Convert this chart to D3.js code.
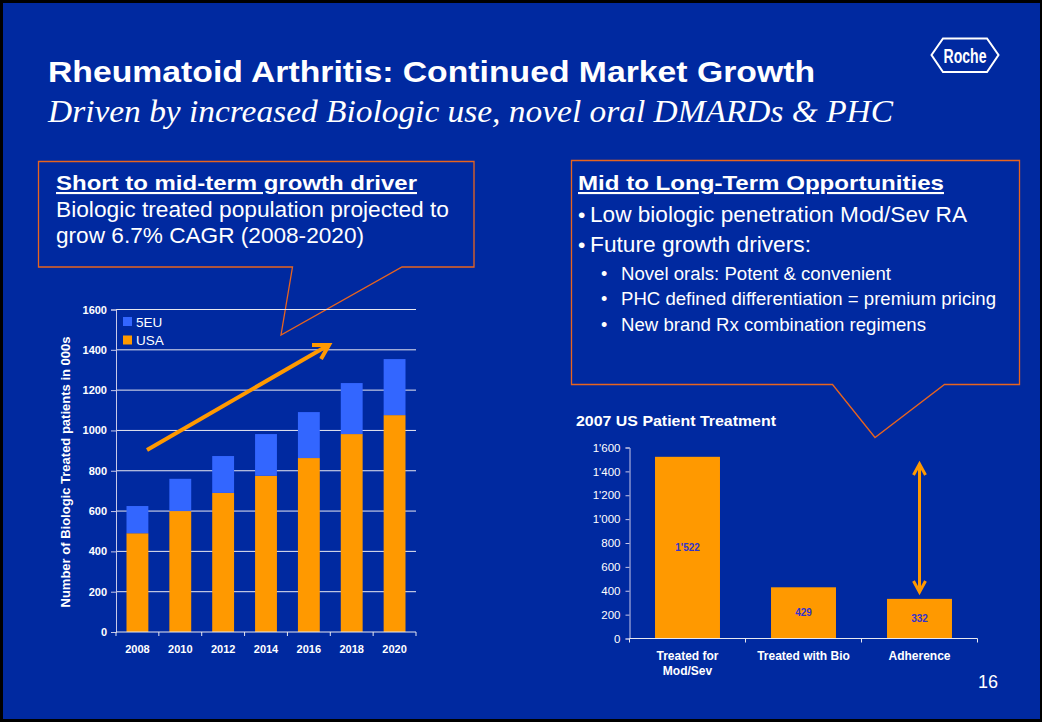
<!DOCTYPE html>
<html><head><meta charset="utf-8">
<script src="https://cdn.jsdelivr.net/npm/d3@7"></script>
<style>
html,body{margin:0;padding:0;background:#000;}
svg{display:block;}
text{font-family:"Liberation Sans",Arial,sans-serif;fill:#fff;}
</style></head>
<body>
<svg id="c" width="1042" height="722"></svg>
<script>
// ---- data ----
const years = ["2008","2010","2012","2014","2016","2018","2020"];
const usaValues = [490, 600, 690, 775, 863, 982, 1076];
const eu5Values = [135, 160, 183, 207, 228, 253, 278];
const seriesNames = ["5EU","USA"];
const leftYTicks = [0,200,400,600,800,1000,1200,1400,1600];

const treatCats = ["Treated for|Mod/Sev","Treated with Bio","Adherence"];
const treatValues = [1522, 429, 332];
const rightYTicks = [0,200,400,600,800,1000,1200,1400,1600];

const BG = "#0029A0", ORANGE = "#FF9900", BLUE = "#3366FF", CALLOUT = "#E8641E";
const fmtQ = d3.format(",");
const swiss = v => fmtQ(v).replace(/,/g, "'");

const svg = d3.select("#c");
svg.append("rect").attr("x",3).attr("y",3).attr("width",1037).attr("height",716).attr("fill",BG);

function fitText(x,y,size,len,str,opts={}){
  const t = svg.append("text").attr("x",x).attr("y",y).attr("font-size",size).text(str);
  if(len) t.attr("textLength",len).attr("lengthAdjust","spacingAndGlyphs");
  if(opts.bold) t.attr("font-weight","bold");
  if(opts.underline) t.attr("text-decoration","underline");
  return t;
}

// ---- title ----
fitText(48,82,30,767,"Rheumatoid Arthritis: Continued Market Growth",{bold:true});
fitText(48,122,31,845,"Driven by increased Biologic use, novel oral DMARDs & PHC")
  .attr("font-style","italic").style("font-family","'Liberation Serif','Times New Roman',serif");

// ---- Roche logo ----
const logo = svg.append("g");
logo.append("path").attr("d","M931.5,55 L943,38.5 L987,38.5 L998.5,55 L987,72 L943,72 Z")
  .attr("fill","none").attr("stroke","#fff").attr("stroke-width",2);
logo.append("text").attr("x",965).attr("y",62.5).attr("text-anchor","middle").attr("font-size",20)
  .attr("font-weight","bold").style("font-family","'Liberation Sans Narrow','Liberation Sans',sans-serif")
  .attr("textLength",43).attr("lengthAdjust","spacingAndGlyphs").text("Roche");

// ---- callouts ----
svg.append("path").attr("d","M292.5,267 L38.5,267 L38.5,161.5 L474,161.5 L474,267 L402,267 L281,335 Z")
  .attr("fill","none").attr("stroke",CALLOUT).attr("stroke-width",1.3);
svg.append("path").attr("d","M832.5,384.5 L571.5,384.5 L571.5,160.5 L1019.5,160.5 L1019.5,384.5 L944.5,384.5 L875,437.5 Z")
  .attr("fill","none").attr("stroke",CALLOUT).attr("stroke-width",1.3);

fitText(56,190,21,361,"Short to mid-term growth driver",{bold:true,underline:true});
fitText(56,217,21.5,393,"Biologic treated population projected to");
fitText(56,243,21.5,308,"grow 6.7% CAGR (2008-2020)");

fitText(578,190,21,366,"Mid to Long-Term Opportunities",{bold:true,underline:true});
fitText(578,222,21,null,"\u2022");
fitText(590,222,21.5,377,"Low biologic penetration Mod/Sev RA");
fitText(578,252,21,null,"\u2022");
fitText(590,252,21.5,221,"Future growth drivers:");
[["Novel orals: Potent & convenient",280,270],["PHC defined differentiation = premium pricing",305,375],["New brand Rx combination regimens",331,305]].forEach(([t,y,w])=>{
  fitText(601,y,18,null,"\u2022");
  fitText(621,y,18,w,t);
});

// ---- left chart ----
const L = {x0:116, x1:416, y0:632, y1:309.5};
const lx = d3.scaleBand().domain(years).range([L.x0,L.x1]).paddingInner(0.49).paddingOuter(0.245);
const ly = d3.scaleLinear().domain([0,1600]).range([L.y0,L.y1]);
const lg = svg.append("g");
lg.selectAll("line.grid").data(leftYTicks.filter(d=>d>0)).join("line")
  .attr("x1",L.x0).attr("x2",L.x1).attr("y1",d=>ly(d)).attr("y2",d=>ly(d))
  .attr("stroke","#E8E8F0").attr("stroke-width",1);
const stackData = years.map((y,i)=>({year:y, USA:usaValues[i], "5EU":eu5Values[i]}));
const stack = d3.stack().keys(["USA","5EU"])(stackData);
const colorOf = {USA:ORANGE, "5EU":BLUE};
stack.forEach(s=>{
  lg.selectAll(null).data(s).join("rect")
    .attr("x",d=>lx(d.data.year)).attr("width",lx.bandwidth())
    .attr("y",d=>ly(d[1])).attr("height",d=>ly(d[0])-ly(d[1]))
    .attr("fill",colorOf[s.key]);
});
const lyAxis = lg.append("g").attr("transform",`translate(${L.x0},0)`)
  .call(d3.axisLeft(ly).tickValues(leftYTicks).tickSize(5).tickPadding(4).tickFormat(d3.format("d")));
lyAxis.select(".domain").attr("stroke","#C8C8E8");
lyAxis.selectAll(".tick line").attr("stroke","#C8C8E8");
lyAxis.selectAll("text").attr("fill","#fff").attr("font-size",11).attr("font-weight","bold")
  .style("font-family","'Liberation Sans',Arial,sans-serif");
const lxAxis = lg.append("g").attr("transform",`translate(0,${L.y0})`)
  .call(d3.axisBottom(lx).tickSize(0).tickPadding(13));
lxAxis.select(".domain").attr("stroke","#E8E8F0").attr("d",`M${L.x0},0H${L.x1}`);
lxAxis.selectAll("text").attr("fill","#fff").attr("font-size",11).attr("font-weight","bold")
  .style("font-family","'Liberation Sans',Arial,sans-serif");
const lstep = lx.step();
lg.selectAll("line.xt").data(d3.range(years.length+1)).join("line")
  .attr("x1",i=>L.x0+i*lstep).attr("x2",i=>L.x0+i*lstep)
  .attr("y1",L.y0).attr("y2",L.y0+4).attr("stroke","#E8E8F0");
lg.append("text").attr("transform","translate(70,472) rotate(-90)").attr("text-anchor","middle")
  .attr("font-size",13).attr("font-weight","bold")
  .attr("textLength",271).attr("lengthAdjust","spacingAndGlyphs")
  .text("Number of Biologic Treated patients in 000s");
seriesNames.forEach((n,i)=>{
  lg.append("rect").attr("x",123).attr("y",317+i*18.5).attr("width",9).attr("height",9).attr("fill",colorOf[n]);
  lg.append("text").attr("x",136).attr("y",326.5+i*18.5).attr("font-size",13.5).text(n);
});
lg.append("line").attr("x1",147).attr("y1",450).attr("x2",327).attr("y2",346)
  .attr("stroke",ORANGE).attr("stroke-width",4).attr("stroke-linecap","butt");
lg.append("path").attr("d","M312,345 L329,345 L321,359").attr("fill","none")
  .attr("stroke",ORANGE).attr("stroke-width",4).attr("stroke-linejoin","miter");

// ---- right chart ----
svg.append("text").attr("x",576).attr("y",426).attr("font-size",15.5).attr("font-weight","bold")
  .attr("textLength",200).attr("lengthAdjust","spacingAndGlyphs").text("2007 US Patient Treatment");
const R = {x0:629.5, x1:977.5, y0:638.5, y1:447.5};
const rx = d3.scaleBand().domain(treatCats).range([R.x0,R.x1]).paddingInner(0.44).paddingOuter(0.22);
const ry = d3.scaleLinear().domain([0,1600]).range([R.y0,R.y1]);
const rg = svg.append("g");
rg.selectAll("rect.bar").data(treatCats).join("rect")
  .attr("x",d=>rx(d)).attr("width",rx.bandwidth())
  .attr("y",(d,i)=>ry(treatValues[i])).attr("height",(d,i)=>ry(0)-ry(treatValues[i]))
  .attr("fill",ORANGE);
rg.selectAll("text.lbl").data(treatCats).join("text")
  .attr("x",d=>rx(d)+rx.bandwidth()/2).attr("y",(d,i)=>ry(treatValues[i]/2)+3.5)
  .attr("text-anchor","middle").attr("font-size",10).attr("font-weight","bold")
  .style("fill","#3333CC").text((d,i)=>swiss(treatValues[i]));
const ryAxis = rg.append("g").attr("transform",`translate(${R.x0},0)`)
  .call(d3.axisLeft(ry).tickValues(rightYTicks).tickSize(4).tickPadding(5).tickFormat(swiss));
ryAxis.select(".domain").attr("stroke","#C8C8E8");
ryAxis.selectAll(".tick line").attr("stroke","#C8C8E8");
ryAxis.selectAll("text").attr("fill","#fff").attr("font-size",11.5).style("font-family","'Liberation Sans',Arial,sans-serif");
const rxAxis = rg.append("g").attr("transform",`translate(0,${R.y0})`)
  .call(d3.axisBottom(rx).tickSize(0).tickFormat(""));
rxAxis.select(".domain").attr("stroke","#E8E8F0").attr("d",`M${R.x0},0H${R.x1}`);
const rstep = rx.step();
rg.selectAll("line.xt").data(d3.range(treatCats.length+1)).join("line")
  .attr("x1",i=>R.x0+i*rstep).attr("x2",i=>R.x0+i*rstep)
  .attr("y1",R.y0).attr("y2",R.y0+4).attr("stroke","#E8E8F0");
treatCats.forEach(c=>{
  const lines = c.split("|");
  const t = rg.append("text").attr("x",rx(c)+rx.bandwidth()/2).attr("y",660)
    .attr("text-anchor","middle").attr("font-size",12).attr("font-weight","bold");
  lines.forEach((l,j)=>t.append("tspan").attr("x",rx(c)+rx.bandwidth()/2).attr("dy",j?15:0).text(l));
});
const ax = rx("Adherence")+rx.bandwidth()/2;
rg.append("line").attr("x1",ax).attr("x2",ax).attr("y1",465).attr("y2",591)
  .attr("stroke",ORANGE).attr("stroke-width",3);
rg.append("path").attr("d",`M${ax-6},475 L${ax},464 L${ax+6},475`).attr("fill","none").attr("stroke",ORANGE).attr("stroke-width",3);
rg.append("path").attr("d",`M${ax-6},581 L${ax},592 L${ax+6},581`).attr("fill","none").attr("stroke",ORANGE).attr("stroke-width",3);

svg.append("text").attr("x",988).attr("y",688).attr("text-anchor","middle").attr("font-size",18).text("16");
</script>
</body></html>
